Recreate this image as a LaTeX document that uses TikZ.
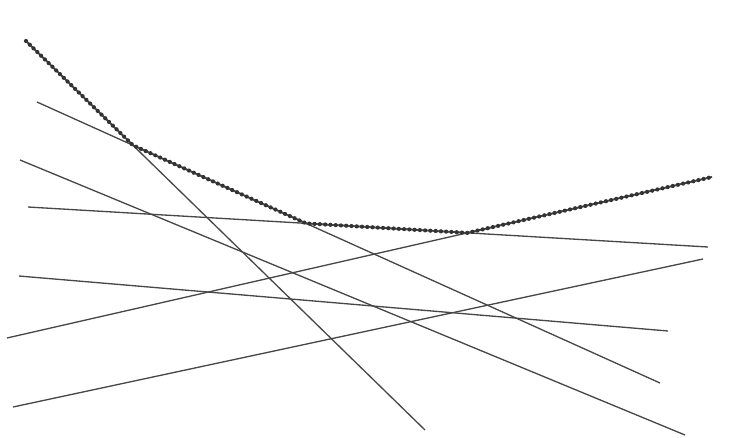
\documentclass[tikz,border=0pt]{standalone}
\begin{document}
\begin{tikzpicture}[x=0.02cm,y=-0.02cm,
  line/.style={draw=black!72, line width=0.75pt},
  beads/.style={draw=black!80, line width=2.4pt, line cap=round, dash pattern=on 0pt off 3pt}]
\useasboundingbox (0,0) rectangle (735,437);
% end points of the seven lines
\coordinate (a1) at (26,41);  \coordinate (a2) at (425,430);
\coordinate (b1) at (37,102); \coordinate (b2) at (660,383);
\coordinate (c1) at (20,160); \coordinate (c2) at (685,435);
\coordinate (d1) at (28,207); \coordinate (d2) at (708,247);
\coordinate (e1) at (7,338);  \coordinate (e2) at (712,177);
\coordinate (f1) at (19,276); \coordinate (f2) at (668,331);
\coordinate (g1) at (13,407); \coordinate (g2) at (703,259);
\foreach \l in {a,b,c,d,e,f,g}
  \draw[line] (\l1) -- (\l2);
% the beaded chain on top
\coordinate (ab) at (intersection of a1--a2 and b1--b2);
\coordinate (bd) at (intersection of b1--b2 and d1--d2);
\coordinate (de) at (intersection of d1--d2 and e1--e2);
\draw[line, line width=1pt] (a1) -- (ab) -- (bd) -- (de) -- (e2);
\draw[beads] (a1) -- (ab) -- (bd) -- (de) -- (e2);
\end{tikzpicture}
\end{document}
